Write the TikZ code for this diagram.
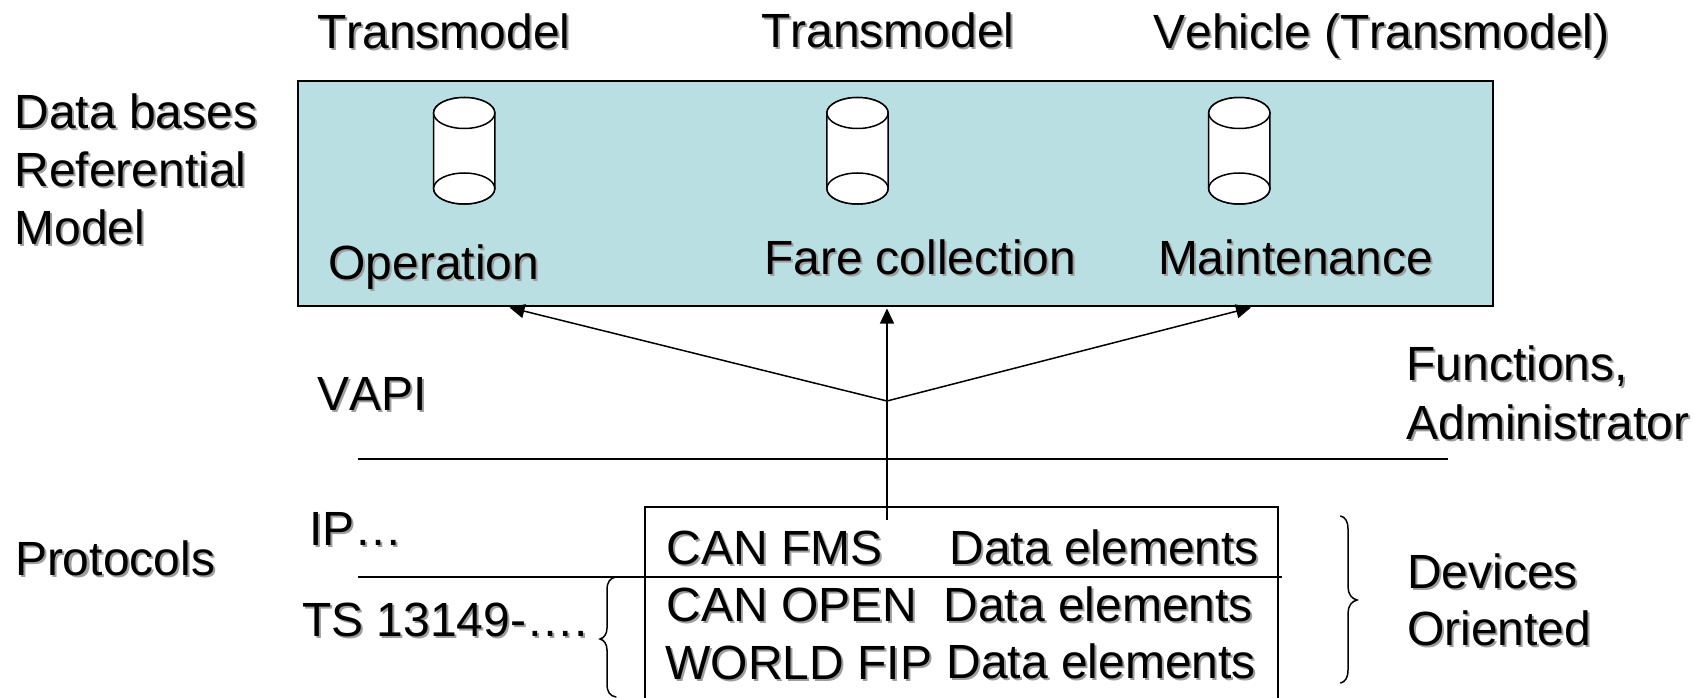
\documentclass[tikz,border=0pt]{standalone}
\usepackage{fontspec}
\setmainfont[Kerning=Off]{Liberation Sans}
\usetikzlibrary{arrows.meta}
\definecolor{panel}{HTML}{B9DFE2}
\definecolor{shade}{gray}{0.62}
\newcommand{\shtext}[1]{\leavevmode\rlap{\kern2pt\raisebox{-2pt}{\textcolor{shade}{#1}}}#1}
\tikzset{
  x=1pt,y=-1pt,
  lbl/.style={anchor=base west,inner sep=0pt,outer sep=0pt,font=\fontsize{48}{50}\selectfont,text=black},
  panelbox/.style={draw=black,line width=2pt,fill=panel,anchor=north west,inner sep=0pt,outer sep=0pt,minimum width=1195.5pt,minimum height=225pt},
  databox/.style={draw=black,line width=1.8pt,anchor=north west,inner sep=0pt,outer sep=0pt,minimum width=633pt,minimum height=230pt},
  rule/.style={draw=black,line width=1.8pt},
  conn/.style={draw=black,line width=1.5pt},
  tip/.style={conn,-{Stealth[length=15pt,width=14pt,inset=0pt]}},
  brc/.style={draw=black,line width=1.5pt,line cap=round},
  cyl/.style={draw=black,line width=1.5pt,fill=white}
}
\newcommand{\dbcyl}[1]{%
  \path[cyl] (#1-30.6,113) -- (#1-30.6,188.5) arc[start angle=180,end angle=360,x radius=30.6pt,y radius=15.5pt] -- (#1+30.6,113) arc[start angle=0,end angle=-180,x radius=30.6pt,y radius=-15.5pt] -- cycle;
  \path[cyl] (#1,113) ellipse[x radius=30.6pt,y radius=15.5pt];
  \path[cyl] (#1,188.5) ellipse[x radius=30.6pt,y radius=15.5pt];
}
\begin{document}
\begin{tikzpicture}
\useasboundingbox (0,0) rectangle (1695,698);
\fill[white] (0,0) rectangle (1695,698);
\clip (0,0) rectangle (1695,698);

\node[panelbox] (panel) at (297.6,81) {};
\dbcyl{464.2}
\dbcyl{857.5}
\dbcyl{1239.3}

\node[lbl] (t1) at (317,49) {\shtext{Transmodel}};
\node[lbl] (t2) at (761,47.5) {\shtext{Transmodel}};
\node[lbl] (t3) at (1153.5,49) {\shtext{Vehicle (Transmodel)}};
\node[lbl] (d1) at (14.5,128.7) {\shtext{Data bases}};
\node[lbl] (d2) at (14.5,186) {\shtext{Referential}};
\node[lbl] (d3) at (14.5,244) {\shtext{Model}};
\node[lbl] (op) at (328.5,279) {\shtext{Operation}};
\node[lbl] (fc) at (764,274) {\shtext{Fare collection}};
\node[lbl] (mt) at (1158,274) {\shtext{Maintenance}};
\node[lbl] (va) at (317,410) {\shtext{VAPI}};
\node[lbl] (f1) at (1406.5,380) {\shtext{Functions,}};
\node[lbl] (f2) at (1406.5,439) {\shtext{Administrator}};
\node[lbl] (pr) at (15,575) {\shtext{Protocols}};
\node[lbl] (ip) at (309.5,545.7) {\shtext{IP…}};
\node[lbl] (ts) at (302,636.7) {\shtext{TS 13149-….}};

\node[databox] (data) at (645,506.7) {};
\node[lbl] (c1) at (666.4,564) {\shtext{CAN FMS}};
\node[lbl] (c2) at (666.4,621) {\shtext{CAN OPEN}};
\node[lbl] (c3) at (665.5,679) {\shtext{WORLD FIP}};
\node[lbl] (e1) at (949.5,564) {\shtext{Data elements}};
\node[lbl] (e2) at (943.5,621) {\shtext{Data elements}};
\node[lbl] (e3) at (946.5,678.5) {\shtext{Data elements}};
\node[lbl] (g1) at (1407,588) {\shtext{Devices}};
\node[lbl] (g2) at (1407,645) {\shtext{Oriented}};

\coordinate (r1a) at (358,459.3);
\coordinate (r1b) at (1448,459.3);
\coordinate (r2a) at (358,577);
\coordinate (r2b) at (1281.6,577);
\draw[rule] (r1a) -- (r1b);
\draw[rule] (r2a) -- (r2b);

\coordinate (src) at (887,520);
\coordinate (hub) at (887,401);
\coordinate (tipL) at (509.5,307.5);
\coordinate (tipM) at (887,308.5);
\coordinate (tipR) at (1251,307.5);
\draw[tip] (src) -- (tipM);
\draw[tip] (hub) -- (tipL);
\draw[tip] (hub) -- (tipR);

% left brace
\draw[brc] (616,577) .. controls (610,578) and (607,582) .. (607,590)
  -- (607,628) .. controls (607,634) and (604,638) .. (600,639)
  .. controls (604,640) and (607,644) .. (607,650)
  -- (607,684) .. controls (607,692) and (610,696) .. (616,697);
% right brace
\draw[brc] (1340.5,516) .. controls (1345,517) and (1348,521) .. (1348,529)
  -- (1348,587) .. controls (1348,594) and (1352,599) .. (1357,600)
  .. controls (1352,601) and (1348,606) .. (1348,613)
  -- (1348,670) .. controls (1348,678) and (1345,682) .. (1340.5,683);
\end{tikzpicture}
\end{document}
